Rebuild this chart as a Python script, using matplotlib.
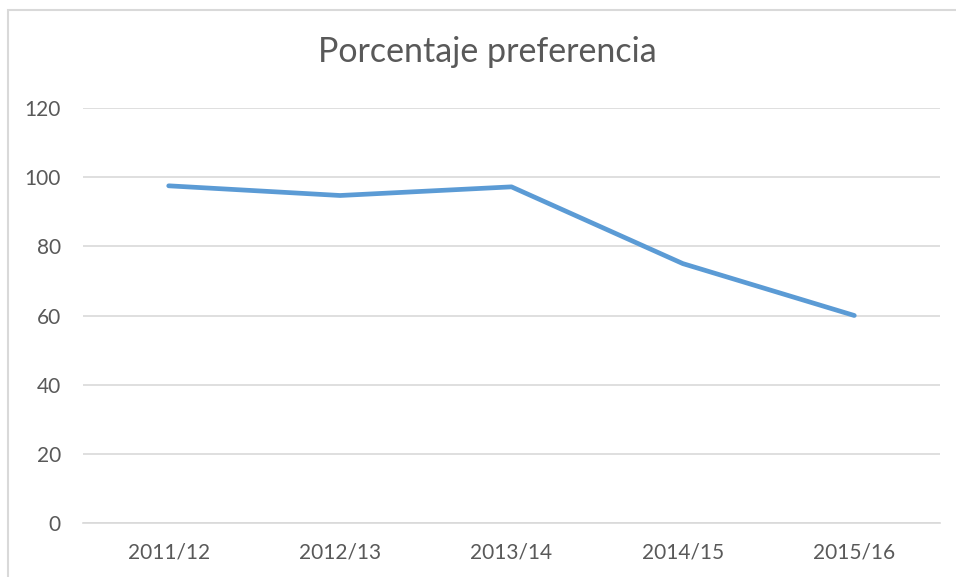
import matplotlib.pyplot as plt
from matplotlib.patches import Rectangle

plt.rcParams["font.family"] = ["Lato", "DejaVu Sans"]

temporadas = ["2011/12", "2012/13", "2013/14", "2014/15", "2015/16"]
porcentaje = [97.5, 94.7, 97.2, 75.0, 60.0]
ticks_y = [0, 20, 40, 60, 80, 100, 120]

fig = plt.figure(figsize=(9.56, 5.77), dpi=100)
ax = fig.add_axes([83 / 956, 1 - 523 / 577, (940 - 83) / 956, (523 - 108) / 577])

# Marco del gráfico (solo se ven los bordes izquierdo y superior)
fig.patches.append(Rectangle((8 / 956, -0.05), 1.0, 1 - 10 / 577 + 0.05,
                             transform=fig.transFigure, fill=False,
                             edgecolor="#d9d9d9", linewidth=1.5))

ax.plot(range(len(temporadas)), porcentaje, color="#5b9bd5", linewidth=3.4,
        solid_capstyle="round", solid_joinstyle="round", zorder=3)

ax.set_xlim(-0.5, len(temporadas) - 0.5)
ax.set_ylim(0, 120)
ax.set_yticks(ticks_y)
ax.set_xticks(range(len(temporadas)))
ax.set_xticklabels(temporadas)
ax.grid(axis="y", color="#d9d9d9", linewidth=1.2)
ax.set_axisbelow(True)
for s in ["top", "right", "left"]:
    ax.spines[s].set_visible(False)
ax.spines["bottom"].set_color("#d9d9d9")
ax.spines["bottom"].set_linewidth(1.2)
ax.tick_params(length=0, labelsize=15, labelcolor="#595959")
ax.tick_params(axis="y", pad=16)
ax.tick_params(axis="x", pad=14)

fig.text(487 / 956, 1 - 52 / 577, "Porcentaje preferencia", ha="center", va="center",
         fontsize=24.5, color="#595959")

fig.savefig("out.png", dpi=100)
